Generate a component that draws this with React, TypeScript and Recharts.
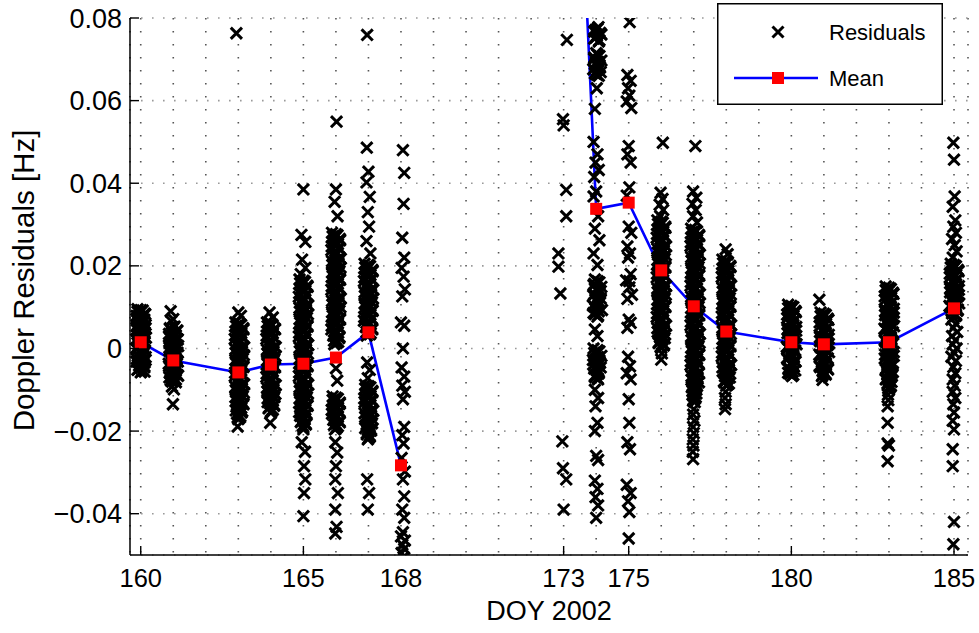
import React from 'react';
import { ComposedChart, Scatter, Line, XAxis, YAxis, CartesianGrid, Legend } from 'recharts';

const FONT = '"Liberation Sans", Arial, Helvetica, sans-serif';

// axis ticks
const dayTicks = [160, 161, 162, 163, 164, 165, 166, 167, 168, 169, 170, 171, 172, 173, 174, 175, 176, 177, 178, 179, 180, 181, 182, 183, 184, 185];
const dayLabels = [160, 165, 168, 173, 175, 180, 185];
const yTicks = [-0.04, -0.02, 0, 0.02, 0.04, 0.06, 0.08];
const yTickLabels = ['\u22120.04', '\u22120.02', '0', '0.02', '0.04', '0.06', '0.08'];

// daily mean (173 runs off the top of the plot, 169-172 no data)
const meanDays = [160, 161, 163, 164, 165, 166, 167, 168, 170, 173, 174, 175, 176, 177, 178, 180, 181, 183, 185];
const meanValues = [0.0015, -0.0029, -0.0058, -0.0039, -0.0037, -0.0022, 0.0039, -0.0283, null, 0.203, 0.0338, 0.0353, 0.0189, 0.0102, 0.0041, 0.0015, 0.001, 0.0015, 0.0097];

// residuals per pass, [DOY, Hz]
const day160 = [
  [159.9, 0.0095], [160.06, 0.0092], [159.98, 0.0087], [160.14, 0.0083], [159.87, 0.0079], [160.03, 0.0075], [160.11, 0.007], [159.93, 0.0066],
  [160.0, 0.0061], [160.15, 0.0057], [159.88, 0.0053], [160.07, 0.0048], [159.96, 0.0044], [160.12, 0.0039], [159.9, 0.0035], [160.04, 0.003],
  [160.16, 0.0026], [159.86, 0.0022], [160.0, 0.0017], [160.1, 0.0013], [159.94, 0.0008], [160.06, 0.0004], [159.88, -0.0001], [160.13, -0.0005],
  [159.98, -0.001], [160.08, -0.0014], [159.91, -0.0019], [160.02, -0.0023], [160.15, -0.0028], [159.87, -0.0032], [160.05, -0.0037], [159.95, -0.0041],
  [160.11, -0.0046], [159.92, -0.005], [160.04, -0.0054], [160.0, -0.0058],
  [160.0, 0.0093], [159.9, 0.0089], [160.12, 0.0084], [159.95, 0.008], [160.06, 0.0076], [159.87, 0.0071], [160.1, 0.0067], [159.98, 0.0062],
  [160.04, 0.0058], [159.92, 0.0054], [160.15, 0.0049], [159.88, 0.0045], [160.08, 0.004], [159.96, 0.0036], [160.02, 0.0031], [160.11, 0.0027],
  [160.0, 0.0023], [159.9, 0.0018], [160.12, 0.0014], [159.95, 0.001], [160.06, 0.0005], [159.87, 0.0001], [160.1, -0.0003], [159.98, -0.0008],
  [160.04, -0.0012], [159.92, -0.0017], [160.15, -0.0021], [159.88, -0.0025], [160.08, -0.003], [159.96, -0.0034], [160.02, -0.0039], [160.11, -0.0043],
  [160.0, -0.0047], [159.9, -0.0052], [160.12, -0.0056],
];
const day161 = [
  [160.92, 0.009], [161.0, 0.0071], [160.94, 0.0066],
  [161.04, 0.0053], [160.9, 0.0049], [161.12, 0.0044], [160.98, 0.004], [160.87, 0.0035], [161.08, 0.0031], [160.95, 0.0026], [161.14, 0.0022],
  [161.02, 0.0017], [160.89, 0.0013], [161.1, 0.0008], [160.96, 0.0004], [161.05, -0.0001], [160.88, -0.0005], [161.13, -0.001], [160.99, -0.0014],
  [161.07, -0.0019], [160.91, -0.0023], [161.03, -0.0028], [161.14, -0.0032], [160.86, -0.0037], [161.0, -0.0041], [161.1, -0.0046], [160.94, -0.005],
  [161.06, -0.0055], [160.89, -0.0059], [161.12, -0.0064], [160.97, -0.0068], [161.04, -0.0073], [160.92, -0.0077], [161.08, -0.0082],
  [160.96, -0.0092], [161.02, -0.0099], [160.99, -0.0135],
  [161.0, 0.0051], [160.9, 0.0047], [161.12, 0.0042], [160.95, 0.0038], [161.06, 0.0033], [160.87, 0.0029], [161.1, 0.0024], [160.98, 0.002],
  [161.04, 0.0015], [160.92, 0.0011], [161.15, 0.0006], [160.88, 0.0002], [161.08, -0.0003], [160.96, -0.0007], [161.02, -0.0012], [161.11, -0.0016],
  [161.0, -0.0021], [160.9, -0.0025], [161.12, -0.003], [160.95, -0.0034], [161.06, -0.0039], [160.87, -0.0043], [161.1, -0.0048], [160.98, -0.0052],
  [161.04, -0.0057], [160.92, -0.0061], [161.15, -0.0066], [160.88, -0.007], [161.08, -0.0075], [160.96, -0.008],
];
const day163 = [
  [162.94, 0.0763], [163.0, 0.0087], [163.08, 0.0079],
  [162.91, 0.0063], [163.08, 0.0057], [163.0, 0.0052], [163.16, 0.0046], [162.94, 0.004], [163.04, 0.0035], [163.12, 0.0029], [162.89, 0.0023],
  [163.06, 0.0018], [162.97, 0.0012], [163.14, 0.0006], [163.02, 0.0001], [163.1, -0.0005], [162.92, -0.0011], [163.17, -0.0016], [162.99, -0.0022],
  [162.91, -0.0028], [163.08, -0.0033], [163.0, -0.0039], [163.16, -0.0045], [162.94, -0.005], [163.04, -0.0056], [163.12, -0.0062], [162.89, -0.0067],
  [163.06, -0.0073], [162.97, -0.0079], [163.14, -0.0084], [163.02, -0.009], [163.1, -0.0096], [162.92, -0.0101], [163.17, -0.0107], [162.99, -0.0113],
  [162.91, -0.0118], [163.08, -0.0124], [163.0, -0.013], [163.16, -0.0135], [162.94, -0.0141], [163.04, -0.0147], [163.12, -0.0152], [162.96, -0.0158],
  [163.06, -0.0164], [163.0, -0.0171], [162.98, -0.0189],
  [163.03, 0.006], [162.93, 0.0054], [163.15, 0.0049], [162.98, 0.0043], [163.09, 0.0037], [162.9, 0.0032], [163.13, 0.0026], [163.01, 0.002],
  [163.07, 0.0015], [162.95, 0.0009], [163.18, 0.0003], [162.91, -0.0002], [163.11, -0.0008], [162.99, -0.0014], [163.05, -0.0019], [163.14, -0.0025],
  [163.03, -0.0031], [162.93, -0.0036], [163.15, -0.0042], [162.98, -0.0048], [163.09, -0.0053], [162.9, -0.0059], [163.13, -0.0065], [163.01, -0.007],
  [163.07, -0.0076], [162.95, -0.0082], [163.18, -0.0087], [162.91, -0.0093], [163.11, -0.0099], [162.99, -0.0104], [163.05, -0.011], [163.14, -0.0116],
  [163.03, -0.0121], [162.93, -0.0127], [163.15, -0.0133], [162.98, -0.0138], [163.09, -0.0144], [162.92, -0.015], [163.1, -0.0155], [163.01, -0.0161],
  [163.05, -0.0167],
];
const day164 = [
  [163.96, 0.0087], [164.06, 0.0075],
  [163.88, 0.0063], [164.05, 0.0057], [163.97, 0.0051], [164.13, 0.0046], [163.91, 0.004], [164.01, 0.0034], [164.09, 0.0028], [163.86, 0.0023],
  [164.03, 0.0017], [163.94, 0.0011], [164.11, 0.0005], [163.99, 0.0], [164.07, -0.0006], [163.89, -0.0012], [164.14, -0.0018], [163.96, -0.0023],
  [163.88, -0.0029], [164.05, -0.0035], [163.97, -0.0041], [164.13, -0.0046], [163.91, -0.0052], [164.01, -0.0058], [164.09, -0.0064], [163.86, -0.0069],
  [164.03, -0.0075], [163.94, -0.0081], [164.11, -0.0087], [163.99, -0.0092], [164.07, -0.0098], [163.89, -0.0104], [164.14, -0.011], [163.96, -0.0115],
  [163.9, -0.0121], [164.06, -0.0127], [163.98, -0.0133], [164.1, -0.0139], [163.93, -0.0145], [164.03, -0.0151], [164.0, -0.0156], [163.98, -0.018],
  [164.0, 0.006], [163.9, 0.0054], [164.12, 0.0048], [163.95, 0.0043], [164.06, 0.0037], [163.87, 0.0031], [164.1, 0.0026], [163.98, 0.002],
  [164.04, 0.0014], [163.92, 0.0008], [164.15, 0.0003], [163.88, -0.0003], [164.08, -0.0009], [163.96, -0.0015], [164.02, -0.002], [164.11, -0.0026],
  [164.0, -0.0032], [163.9, -0.0038], [164.12, -0.0043], [163.95, -0.0049], [164.06, -0.0055], [163.87, -0.0061], [164.1, -0.0066], [163.98, -0.0072],
  [164.04, -0.0078], [163.92, -0.0084], [164.15, -0.0089], [163.88, -0.0095], [164.08, -0.0101], [163.96, -0.0107], [164.02, -0.0112], [164.11, -0.0118],
  [164.0, -0.0124], [163.9, -0.013], [164.1, -0.0136], [163.95, -0.0142], [164.06, -0.0148], [164.0, -0.0153],
];
const day165 = [
  [165.0, 0.0385], [164.94, 0.0275], [165.06, 0.0258], [164.96, 0.0215], [165.06, 0.0195], [164.92, 0.018],
  [164.88, 0.0167], [165.05, 0.0161], [164.97, 0.0155], [165.13, 0.0149], [164.91, 0.0143], [165.01, 0.0137], [165.09, 0.0131], [164.86, 0.0125],
  [165.03, 0.0119], [164.94, 0.0113], [165.11, 0.0107], [164.99, 0.0101], [165.07, 0.0095], [164.89, 0.0089], [165.14, 0.0083], [164.96, 0.0077],
  [164.88, 0.0071], [165.05, 0.0065], [164.97, 0.0059], [165.13, 0.0053], [164.91, 0.0047], [165.01, 0.0041], [165.09, 0.0035], [164.86, 0.0029],
  [165.03, 0.0023], [164.94, 0.0017], [165.11, 0.0011], [164.99, 0.0005], [165.07, -0.0001], [164.89, -0.0007], [165.14, -0.0013], [164.96, -0.0019],
  [164.88, -0.0025], [165.05, -0.0031], [164.97, -0.0037], [165.13, -0.0043], [164.91, -0.0049], [165.01, -0.0055], [165.09, -0.0061], [164.86, -0.0067],
  [165.03, -0.0073], [164.94, -0.0079], [165.11, -0.0085], [164.99, -0.0091], [165.07, -0.0097], [164.89, -0.0103], [165.14, -0.0109], [164.96, -0.0115],
  [164.88, -0.0121], [165.05, -0.0127], [164.97, -0.0133], [165.13, -0.0139], [164.91, -0.0145], [165.01, -0.0151], [165.09, -0.0157], [164.9, -0.0163],
  [165.03, -0.0169], [164.95, -0.0175], [165.06, -0.0181], [164.98, -0.0187], [165.0, -0.0196],
  [164.95, -0.0227], [165.05, -0.025], [165.02, -0.0285], [165.06, -0.0317], [165.02, -0.035], [165.0, -0.0406],
  [165.0, 0.0164], [164.9, 0.0158], [165.12, 0.0152], [164.95, 0.0146], [165.06, 0.014], [164.87, 0.0134], [165.1, 0.0128], [164.98, 0.0122],
  [165.04, 0.0116], [164.92, 0.011], [165.15, 0.0104], [164.88, 0.0098], [165.08, 0.0092], [164.96, 0.0086], [165.02, 0.008], [165.11, 0.0074],
  [165.0, 0.0068], [164.9, 0.0062], [165.12, 0.0056], [164.95, 0.005], [165.06, 0.0044], [164.87, 0.0038], [165.1, 0.0032], [164.98, 0.0026],
  [165.04, 0.002], [164.92, 0.0014], [165.15, 0.0008], [164.88, 0.0002], [165.08, -0.0004], [164.96, -0.001], [165.02, -0.0016], [165.11, -0.0022],
  [165.0, -0.0028], [164.9, -0.0034], [165.12, -0.004], [164.95, -0.0046], [165.06, -0.0052], [164.87, -0.0058], [165.1, -0.0064], [164.98, -0.007],
  [165.04, -0.0076], [164.92, -0.0082], [165.15, -0.0088], [164.88, -0.0094], [165.08, -0.01], [164.96, -0.0106], [165.02, -0.0112], [165.11, -0.0118],
  [165.0, -0.0124], [164.9, -0.013], [165.12, -0.0136], [164.95, -0.0142], [165.06, -0.0148], [164.87, -0.0154], [165.1, -0.016], [164.98, -0.0166],
  [165.04, -0.0172], [164.92, -0.0178], [165.08, -0.0184], [165.0, -0.0191],
];
const day166 = [
  [166.02, 0.0549], [166.0, 0.0385], [165.96, 0.0355], [166.05, 0.032],
  [165.88, 0.028], [166.05, 0.0274], [165.97, 0.0268], [166.13, 0.0262], [165.91, 0.0256], [166.01, 0.025], [166.09, 0.0244], [165.86, 0.0238],
  [166.03, 0.0232], [165.94, 0.0226], [166.11, 0.022], [165.99, 0.0214], [166.07, 0.0208], [165.89, 0.0202], [166.14, 0.0196], [165.96, 0.019],
  [165.88, 0.0184], [166.05, 0.0178], [165.97, 0.0172], [166.13, 0.0166], [165.91, 0.016], [166.01, 0.0154], [166.09, 0.0148], [165.86, 0.0142],
  [166.03, 0.0136], [165.94, 0.013], [166.11, 0.0124], [165.99, 0.0118], [166.07, 0.0112], [165.89, 0.0106], [166.14, 0.01], [165.96, 0.0094],
  [165.88, 0.0088], [166.05, 0.0082], [165.97, 0.0076], [166.13, 0.007], [165.91, 0.0064], [166.01, 0.0058], [166.09, 0.0052], [165.86, 0.0046],
  [166.03, 0.004], [165.94, 0.0034], [166.11, 0.0028], [165.99, 0.0022], [166.07, 0.0016], [165.95, 0.001],
  [166.0, -0.0048], [166.04, -0.0078],
  [165.9, -0.0116], [166.06, -0.0122], [165.98, -0.0128], [166.12, -0.0134], [165.92, -0.014], [166.02, -0.0146], [166.1, -0.0152], [165.88, -0.0158],
  [166.04, -0.0164], [165.95, -0.017], [166.11, -0.0176], [165.99, -0.0182], [166.06, -0.0188], [165.97, -0.0196],
  [165.98, -0.0227], [166.04, -0.0252], [166.0, -0.0285], [165.98, -0.0317], [166.06, -0.035], [165.98, -0.039], [166.02, -0.0432], [165.98, -0.0448],
  [166.0, 0.0277], [165.9, 0.0271], [166.12, 0.0265], [165.95, 0.0259], [166.06, 0.0253], [165.87, 0.0247], [166.1, 0.0241], [165.98, 0.0235],
  [166.04, 0.0229], [165.92, 0.0223], [166.15, 0.0217], [165.88, 0.0211], [166.08, 0.0205], [165.96, 0.0199], [166.02, 0.0193], [166.11, 0.0187],
  [166.0, 0.0181], [165.9, 0.0175], [166.12, 0.0169], [165.95, 0.0163], [166.06, 0.0157], [165.87, 0.0151], [166.1, 0.0145], [165.98, 0.0139],
  [166.04, 0.0133], [165.92, 0.0127], [166.15, 0.0121], [165.88, 0.0115], [166.08, 0.0109], [165.96, 0.0103], [166.02, 0.0097], [166.11, 0.0091],
  [166.0, 0.0085], [165.9, 0.0079], [166.12, 0.0073], [165.95, 0.0067], [166.06, 0.0061], [165.87, 0.0055], [166.1, 0.0049], [165.98, 0.0043],
  [166.04, 0.0037], [165.92, 0.0031], [166.1, 0.0025], [165.94, 0.0019], [166.02, 0.0013],
  [166.0, -0.0119], [165.9, -0.0125], [166.12, -0.0131], [165.95, -0.0137], [166.06, -0.0143], [165.87, -0.0149], [166.1, -0.0155], [165.98, -0.0161],
  [166.04, -0.0167], [165.92, -0.0173], [166.12, -0.0179], [165.94, -0.0185], [166.02, -0.0192],
];
const day167 = [
  [166.96, 0.0759], [166.95, 0.0486], [167.0, 0.0428], [166.94, 0.0402], [167.04, 0.0367], [166.98, 0.033], [167.02, 0.0295], [166.94, 0.026], [167.06, 0.023],
  [166.88, 0.0205], [167.05, 0.0199], [166.97, 0.0193], [167.13, 0.0187], [166.91, 0.0181], [167.01, 0.0175], [167.09, 0.0169], [166.86, 0.0163],
  [167.03, 0.0157], [166.94, 0.0151], [167.11, 0.0145], [166.99, 0.0139], [167.07, 0.0133], [166.89, 0.0127], [167.14, 0.0121], [166.96, 0.0115],
  [166.88, 0.0109], [167.05, 0.0103], [166.97, 0.0097], [167.13, 0.0091], [166.91, 0.0085], [167.01, 0.0079], [167.09, 0.0073], [166.86, 0.0067],
  [167.03, 0.0061], [166.94, 0.0055], [167.11, 0.0049], [166.99, 0.0043], [167.07, 0.0037], [166.95, 0.0031],
  [166.96, -0.0034], [167.04, -0.0052], [166.98, -0.0072],
  [166.9, -0.0088], [167.06, -0.0094], [166.98, -0.01], [167.12, -0.0106], [166.92, -0.0112], [167.02, -0.0118], [167.1, -0.0124], [166.88, -0.013],
  [167.04, -0.0136], [166.95, -0.0142], [167.11, -0.0148], [166.99, -0.0154], [167.06, -0.016], [166.9, -0.0166], [167.13, -0.0172], [166.97, -0.0178],
  [167.03, -0.0184], [166.93, -0.019], [167.08, -0.0196], [167.0, -0.0202], [166.95, -0.0208], [167.04, -0.0214], [166.98, -0.022],
  [166.96, -0.0317], [167.02, -0.035], [166.98, -0.039],
  [167.0, 0.0202], [166.9, 0.0196], [167.12, 0.019], [166.95, 0.0184], [167.06, 0.0178], [166.87, 0.0172], [167.1, 0.0166], [166.98, 0.016],
  [167.04, 0.0154], [166.92, 0.0148], [167.15, 0.0142], [166.88, 0.0136], [167.08, 0.013], [166.96, 0.0124], [167.02, 0.0118], [167.11, 0.0112],
  [167.0, 0.0106], [166.9, 0.01], [167.12, 0.0094], [166.95, 0.0088], [167.06, 0.0082], [166.87, 0.0076], [167.1, 0.007], [166.98, 0.0064],
  [167.04, 0.0058], [166.92, 0.0052], [167.12, 0.0046], [166.94, 0.004], [167.04, 0.0034],
  [167.0, -0.0091], [166.9, -0.0097], [167.12, -0.0103], [166.95, -0.0109], [167.06, -0.0115], [166.87, -0.0121], [167.1, -0.0127], [166.98, -0.0133],
  [167.04, -0.0139], [166.92, -0.0145], [167.15, -0.0151], [166.88, -0.0157], [167.08, -0.0163], [166.96, -0.0169], [167.02, -0.0175], [167.11, -0.0181],
  [167.0, -0.0187], [166.9, -0.0193], [167.08, -0.0199], [166.95, -0.0205], [167.04, -0.0211], [167.0, -0.0217],
];
const day168 = [
  [168.06, 0.048], [168.1, 0.0425], [168.08, 0.035], [168.04, 0.0268], [168.1, 0.022], [168.02, 0.0195], [168.08, 0.0174], [168.12, 0.0143],
  [168.04, 0.0126], [168.0, 0.0063], [168.1, 0.0055], [168.06, 0.0], [168.02, -0.0046], [168.1, -0.0068], [168.04, -0.009], [168.12, -0.0105],
  [168.06, -0.0123], [168.1, -0.019], [168.04, -0.021], [168.08, -0.023], [168.02, -0.0265], [168.12, -0.0298], [168.06, -0.0317], [168.1, -0.0358],
  [168.04, -0.039], [168.1, -0.041], [168.06, -0.0445], [168.0, -0.0455], [168.12, -0.0465], [168.04, -0.0475], [168.1, -0.0485], [168.02, -0.0495],
  [168.08, -0.0505],
];
const day173 = [
  [173.1, 0.0747], [172.98, 0.0555], [173.0, 0.054], [173.08, 0.0384], [173.08, 0.032], [172.84, 0.023], [172.84, 0.0198], [172.9, 0.0133],
  [172.96, -0.0225], [172.98, -0.029], [173.08, -0.0317], [173.0, -0.039],
];
const day174 = [
  [174.07, 0.0778], [173.98, 0.0771], [174.12, 0.0764], [174.02, 0.0757], [173.94, 0.075], [174.08, 0.0743],
  [174.0, 0.0715], [174.1, 0.0708], [173.94, 0.0701], [174.06, 0.0694], [173.98, 0.0687], [174.12, 0.068], [174.02, 0.0673], [173.96, 0.0666], [174.08, 0.066],
  [174.02, 0.063], [173.96, 0.058], [173.92, 0.05], [174.04, 0.047], [173.98, 0.045], [174.08, 0.0432], [173.94, 0.0415], [174.0, 0.038],
  [173.92, 0.0368], [174.06, 0.032], [173.96, 0.029], [174.1, 0.0262], [173.92, 0.023], [174.04, 0.0202],
  [173.96, 0.0167], [174.1, 0.016], [173.92, 0.0153], [174.04, 0.0146], [174.14, 0.0139], [173.94, 0.0132], [174.06, 0.0125], [173.98, 0.0118],
  [174.12, 0.0111], [173.9, 0.0104], [174.02, 0.0097], [174.08, 0.009], [173.96, 0.0083], [174.04, 0.0077],
  [173.96, 0.0046], [174.04, 0.003],
  [173.92, 0.0], [174.1, -0.0007], [173.98, -0.0014], [174.06, -0.0021], [173.9, -0.0028], [174.12, -0.0035], [174.0, -0.0042], [173.94, -0.0049],
  [174.08, -0.0056], [174.02, -0.0063], [173.96, -0.0069], [174.06, -0.0075],
  [173.96, -0.01], [174.06, -0.012], [173.98, -0.014], [174.04, -0.018], [173.96, -0.02], [174.0, -0.026], [174.06, -0.027], [173.96, -0.032],
  [174.04, -0.034], [173.98, -0.036], [174.06, -0.038], [174.0, -0.041],
  [174.04, 0.0774], [173.94, 0.0767], [174.16, 0.076], [173.99, 0.0753], [174.1, 0.0746], [174.04, 0.0711], [173.94, 0.0704], [174.16, 0.0697],
  [173.99, 0.069], [174.1, 0.0683], [173.91, 0.0676], [174.14, 0.0669], [174.02, 0.0663],
  [174.04, 0.0163], [173.94, 0.0156], [174.16, 0.0149], [173.99, 0.0142], [174.1, 0.0135], [173.91, 0.0128], [174.14, 0.0121], [174.02, 0.0114],
  [174.08, 0.0107], [173.96, 0.01], [174.18, 0.0093], [173.92, 0.0086], [174.06, 0.008],
  [174.04, -0.0004], [173.94, -0.0011], [174.16, -0.0018], [173.99, -0.0025], [174.1, -0.0032], [173.91, -0.0039], [174.14, -0.0046], [174.02, -0.0053],
  [174.08, -0.006], [173.96, -0.0066], [174.04, -0.0072],
];
const day175 = [
  [175.03, 0.079], [174.96, 0.0662], [175.06, 0.0648], [174.98, 0.063], [175.02, 0.0612], [174.94, 0.0598], [175.08, 0.0582], [175.0, 0.049],
  [174.96, 0.047], [175.06, 0.045], [175.02, 0.039], [174.94, 0.037], [175.0, 0.0295], [175.08, 0.028], [174.96, 0.0247], [175.04, 0.023],
  [174.98, 0.022], [175.06, 0.018], [174.92, 0.0165], [175.02, 0.0148], [175.1, 0.013], [174.96, 0.012], [175.02, 0.0163], [175.0, 0.007],
  [175.06, 0.0062], [174.96, 0.005], [174.98, -0.002], [175.04, -0.0043], [174.94, -0.006], [175.06, -0.0075], [175.0, -0.0123], [175.02, -0.018],
  [174.96, -0.0227], [175.04, -0.0244], [174.94, -0.033], [175.06, -0.035], [174.98, -0.037], [175.02, -0.0396], [175.0, -0.046],
];
const day176 = [
  [176.05, 0.0498], [175.98, 0.0377], [176.04, 0.0362], [175.95, 0.0348], [176.06, 0.0335], [175.97, 0.032],
  [175.88, 0.031], [176.05, 0.0304], [175.97, 0.0298], [176.13, 0.0292], [175.91, 0.0286], [176.01, 0.028], [176.09, 0.0274], [175.86, 0.0268],
  [176.03, 0.0262], [175.94, 0.0256], [176.11, 0.025], [175.99, 0.0244], [176.07, 0.0238], [175.89, 0.0232], [176.14, 0.0226], [175.96, 0.022],
  [175.88, 0.0214], [176.05, 0.0208], [175.97, 0.0202], [176.13, 0.0196], [175.91, 0.019], [176.01, 0.0184], [176.09, 0.0178], [175.86, 0.0172],
  [176.03, 0.0166], [175.94, 0.016], [176.11, 0.0154], [175.99, 0.0148], [176.07, 0.0142], [175.89, 0.0136], [176.14, 0.013], [175.96, 0.0124],
  [175.88, 0.0118], [176.05, 0.0112], [175.97, 0.0106], [176.13, 0.01], [175.91, 0.0094], [176.01, 0.0088], [176.09, 0.0082], [175.86, 0.0076],
  [176.03, 0.007], [175.94, 0.0064], [176.11, 0.0058], [175.99, 0.0052], [176.07, 0.0046], [175.89, 0.004], [176.12, 0.0034], [175.96, 0.0028],
  [176.04, 0.0022], [175.93, 0.0016], [176.08, 0.001], [175.98, 0.0004], [176.02, -0.0012], [176.0, -0.0027],
  [176.0, 0.0307], [175.9, 0.0301], [176.12, 0.0295], [175.95, 0.0289], [176.06, 0.0283], [175.87, 0.0277], [176.1, 0.0271], [175.98, 0.0265],
  [176.04, 0.0259], [175.92, 0.0253], [176.15, 0.0247], [175.88, 0.0241], [176.08, 0.0235], [175.96, 0.0229], [176.02, 0.0223], [176.11, 0.0217],
  [176.0, 0.0211], [175.9, 0.0205], [176.12, 0.0199], [175.95, 0.0193], [176.06, 0.0187], [175.87, 0.0181], [176.1, 0.0175], [175.98, 0.0169],
  [176.04, 0.0163], [175.92, 0.0157], [176.15, 0.0151], [175.88, 0.0145], [176.08, 0.0139], [175.96, 0.0133], [176.02, 0.0127], [176.11, 0.0121],
  [176.0, 0.0115], [175.9, 0.0109], [176.12, 0.0103], [175.95, 0.0097], [176.06, 0.0091], [175.87, 0.0085], [176.1, 0.0079], [175.98, 0.0073],
  [176.04, 0.0067], [175.92, 0.0061], [176.15, 0.0055], [175.88, 0.0049], [176.08, 0.0043], [175.96, 0.0037], [176.02, 0.0031], [176.11, 0.0025],
  [176.0, 0.0019], [175.92, 0.0013], [176.08, 0.0007], [176.0, 0.0001],
];
const day177 = [
  [177.05, 0.049], [176.98, 0.038], [177.08, 0.0365], [176.96, 0.035], [177.06, 0.0335], [176.98, 0.032], [177.1, 0.0305],
  [176.92, 0.029], [177.09, 0.0284], [177.01, 0.0278], [177.17, 0.0272], [176.95, 0.0266], [177.05, 0.026], [177.13, 0.0254], [176.9, 0.0248],
  [177.07, 0.0242], [176.98, 0.0236], [177.15, 0.023], [177.03, 0.0224], [177.11, 0.0218], [176.93, 0.0212], [177.18, 0.0206], [177.0, 0.02],
  [176.92, 0.0194], [177.09, 0.0188], [177.01, 0.0182], [177.17, 0.0176], [176.95, 0.017], [177.05, 0.0164], [177.13, 0.0158], [176.9, 0.0152],
  [177.07, 0.0146], [176.98, 0.014], [177.15, 0.0134], [177.03, 0.0128], [177.11, 0.0122], [176.93, 0.0116], [177.18, 0.011], [177.0, 0.0104],
  [176.92, 0.0098], [177.09, 0.0092], [177.01, 0.0086], [177.17, 0.008], [176.95, 0.0074], [177.05, 0.0068], [177.13, 0.0062], [176.9, 0.0056],
  [177.07, 0.005], [176.98, 0.0044], [177.15, 0.0038], [177.03, 0.0032], [177.11, 0.0026], [176.93, 0.002], [177.18, 0.0014], [177.0, 0.0008],
  [176.92, 0.0002], [177.09, -0.0004], [177.01, -0.001], [177.17, -0.0016], [176.95, -0.0022], [177.05, -0.0028], [177.13, -0.0034], [176.9, -0.004],
  [177.07, -0.0046], [176.98, -0.0052], [177.15, -0.0058], [177.03, -0.0064], [177.11, -0.007], [176.93, -0.0076], [177.16, -0.0082], [177.0, -0.0088],
  [176.94, -0.0094], [177.08, -0.01], [177.02, -0.0106], [176.96, -0.0112], [177.06, -0.0118], [176.99, -0.0124], [177.03, -0.013],
  [177.0, -0.0147], [176.98, -0.016], [177.02, -0.0175], [176.98, -0.019], [177.0, -0.0205], [176.97, -0.022], [176.99, -0.0235], [176.97, -0.025],
  [176.98, -0.0268],
  [177.04, 0.0287], [176.94, 0.0281], [177.16, 0.0275], [176.99, 0.0269], [177.1, 0.0263], [176.91, 0.0257], [177.14, 0.0251], [177.02, 0.0245],
  [177.08, 0.0239], [176.96, 0.0233], [177.19, 0.0227], [176.92, 0.0221], [177.12, 0.0215], [177.0, 0.0209], [177.06, 0.0203], [177.15, 0.0197],
  [177.04, 0.0191], [176.94, 0.0185], [177.16, 0.0179], [176.99, 0.0173], [177.1, 0.0167], [176.91, 0.0161], [177.14, 0.0155], [177.02, 0.0149],
  [177.08, 0.0143], [176.96, 0.0137], [177.19, 0.0131], [176.92, 0.0125], [177.12, 0.0119], [177.0, 0.0113], [177.06, 0.0107], [177.15, 0.0101],
  [177.04, 0.0095], [176.94, 0.0089], [177.16, 0.0083], [176.99, 0.0077], [177.1, 0.0071], [176.91, 0.0065], [177.14, 0.0059], [177.02, 0.0053],
  [177.08, 0.0047], [176.96, 0.0041], [177.19, 0.0035], [176.92, 0.0029], [177.12, 0.0023], [177.0, 0.0017], [177.06, 0.0011], [177.15, 0.0005],
  [177.04, -0.0001], [176.94, -0.0007], [177.16, -0.0013], [176.99, -0.0019], [177.1, -0.0025], [176.91, -0.0031], [177.14, -0.0037], [177.02, -0.0043],
  [177.08, -0.0049], [176.96, -0.0055], [177.16, -0.0061], [176.93, -0.0067], [177.12, -0.0073], [177.0, -0.0079], [177.06, -0.0085], [177.1, -0.0091],
  [177.04, -0.0097], [176.96, -0.0103], [177.08, -0.0109], [177.0, -0.0115], [177.04, -0.0121], [176.98, -0.0127],
];
const day178 = [
  [177.98, 0.024], [178.04, 0.0228],
  [177.88, 0.0215], [178.05, 0.0209], [177.97, 0.0203], [178.13, 0.0197], [177.91, 0.0191], [178.01, 0.0185], [178.09, 0.0179], [177.86, 0.0173],
  [178.03, 0.0167], [177.94, 0.0161], [178.11, 0.0155], [177.99, 0.0149], [178.07, 0.0143], [177.89, 0.0137], [178.14, 0.0131], [177.96, 0.0125],
  [177.88, 0.0119], [178.05, 0.0113], [177.97, 0.0107], [178.13, 0.0101], [177.91, 0.0095], [178.01, 0.0089], [178.09, 0.0083], [177.86, 0.0077],
  [178.03, 0.0071], [177.94, 0.0065], [178.11, 0.0059], [177.99, 0.0053], [178.07, 0.0047], [177.89, 0.0041], [178.14, 0.0035], [177.96, 0.0029],
  [177.88, 0.0023], [178.05, 0.0017], [177.97, 0.0011], [178.13, 0.0005], [177.91, -0.0001], [178.01, -0.0007], [178.09, -0.0013], [177.86, -0.0019],
  [178.03, -0.0025], [177.94, -0.0031], [178.11, -0.0037], [177.99, -0.0043], [178.07, -0.0049], [177.89, -0.0055], [178.12, -0.0061], [177.96, -0.0067],
  [178.04, -0.0073], [177.93, -0.0079], [178.08, -0.0085], [178.0, -0.009],
  [177.98, -0.0105], [177.96, -0.012], [177.98, -0.0135], [177.96, -0.0147],
  [178.0, 0.0212], [177.9, 0.0206], [178.12, 0.02], [177.95, 0.0194], [178.06, 0.0188], [177.87, 0.0182], [178.1, 0.0176], [177.98, 0.017],
  [178.04, 0.0164], [177.92, 0.0158], [178.15, 0.0152], [177.88, 0.0146], [178.08, 0.014], [177.96, 0.0134], [178.02, 0.0128], [178.11, 0.0122],
  [178.0, 0.0116], [177.9, 0.011], [178.12, 0.0104], [177.95, 0.0098], [178.06, 0.0092], [177.87, 0.0086], [178.1, 0.008], [177.98, 0.0074],
  [178.04, 0.0068], [177.92, 0.0062], [178.15, 0.0056], [177.88, 0.005], [178.08, 0.0044], [177.96, 0.0038], [178.02, 0.0032], [178.11, 0.0026],
  [178.0, 0.002], [177.9, 0.0014], [178.12, 0.0008], [177.95, 0.0002], [178.06, -0.0004], [177.87, -0.001], [178.1, -0.0016], [177.98, -0.0022],
  [178.04, -0.0028], [177.92, -0.0034], [178.15, -0.004], [177.88, -0.0046], [178.08, -0.0052], [177.96, -0.0058], [178.02, -0.0064], [178.11, -0.007],
  [178.0, -0.0076], [177.94, -0.0082], [178.04, -0.0087],
];
const day180 = [
  [179.9, 0.0106], [180.06, 0.01], [179.98, 0.0094], [180.14, 0.0088], [179.87, 0.0082], [180.03, 0.0076], [180.11, 0.007], [179.93, 0.0064],
  [180.0, 0.0058], [180.15, 0.0052], [179.88, 0.0046], [180.07, 0.004], [179.96, 0.0034], [180.12, 0.0028], [179.9, 0.0022], [180.04, 0.0016],
  [180.16, 0.001], [179.86, 0.0004], [180.0, -0.0002], [180.1, -0.0008], [179.94, -0.0014], [180.06, -0.002], [179.88, -0.0026], [180.13, -0.0032],
  [179.98, -0.0038], [180.08, -0.0044], [179.91, -0.005], [180.04, -0.0056], [179.96, -0.0062], [180.02, -0.0067],
  [180.0, 0.0103], [179.9, 0.0097], [180.12, 0.0091], [179.95, 0.0085], [180.06, 0.0079], [179.87, 0.0073], [180.1, 0.0067], [179.98, 0.0061],
  [180.04, 0.0055], [179.92, 0.0049], [180.15, 0.0043], [179.88, 0.0037], [180.08, 0.0031], [179.96, 0.0025], [180.02, 0.0019], [180.11, 0.0013],
  [180.0, 0.0007], [179.9, 0.0001], [180.12, -0.0005], [179.95, -0.0011], [180.06, -0.0017], [179.87, -0.0023], [180.1, -0.0029], [179.98, -0.0035],
  [180.04, -0.0041], [179.92, -0.0047], [180.12, -0.0053], [179.9, -0.0059], [180.06, -0.0064],
];
const day181 = [
  [180.86, 0.0118],
  [180.9, 0.0087], [181.06, 0.0081], [180.98, 0.0075], [181.14, 0.0069], [180.87, 0.0063], [181.03, 0.0057], [181.11, 0.0051], [180.93, 0.0045],
  [181.0, 0.0039], [181.15, 0.0033], [180.88, 0.0027], [181.07, 0.0021], [180.96, 0.0015], [181.12, 0.0009], [180.9, 0.0003], [181.04, -0.0003],
  [181.16, -0.0009], [180.86, -0.0015], [181.0, -0.0021], [181.1, -0.0027], [180.94, -0.0033], [181.06, -0.0039], [180.88, -0.0045], [181.13, -0.0051],
  [180.98, -0.0057], [181.06, -0.0063], [180.94, -0.0067], [180.96, -0.0076],
  [181.0, 0.0084], [180.9, 0.0078], [181.12, 0.0072], [180.95, 0.0066], [181.06, 0.006], [180.87, 0.0054], [181.1, 0.0048], [180.98, 0.0042],
  [181.04, 0.0036], [180.92, 0.003], [181.15, 0.0024], [180.88, 0.0018], [181.08, 0.0012], [180.96, 0.0006], [181.02, 0.0], [181.11, -0.0006],
  [181.0, -0.0012], [180.9, -0.0018], [181.12, -0.0024], [180.95, -0.003], [181.06, -0.0036], [180.87, -0.0042], [181.1, -0.0048], [180.98, -0.0054],
  [181.04, -0.006], [180.96, -0.0064],
];
const day183 = [
  [182.9, 0.015], [183.06, 0.0144], [182.98, 0.0138], [183.14, 0.0132], [182.87, 0.0126], [183.03, 0.012], [183.11, 0.0114], [182.93, 0.0108],
  [183.0, 0.0102], [183.15, 0.0096], [182.88, 0.009], [183.07, 0.0084], [182.96, 0.0078], [183.12, 0.0072], [182.9, 0.0066], [183.04, 0.006],
  [183.16, 0.0054], [182.86, 0.0048], [183.0, 0.0042], [183.1, 0.0036], [182.94, 0.003], [183.06, 0.0024], [182.88, 0.0018], [183.13, 0.0012],
  [182.98, 0.0006], [183.08, 0.0], [182.91, -0.0006], [183.02, -0.0012], [183.15, -0.0018], [182.87, -0.0024], [183.05, -0.003], [182.95, -0.0036],
  [183.11, -0.0042], [182.92, -0.0048], [183.04, -0.0054], [182.97, -0.006], [183.09, -0.0066], [182.93, -0.0072], [183.03, -0.0078], [182.96, -0.0084],
  [183.06, -0.009], [182.98, -0.0096], [183.0, -0.01],
  [182.97, -0.0112], [182.98, -0.0125], [182.96, -0.014], [182.96, -0.018], [182.96, -0.023], [183.0, -0.0235], [182.96, -0.0273],
  [183.0, 0.0147], [182.9, 0.0141], [183.12, 0.0135], [182.95, 0.0129], [183.06, 0.0123], [182.87, 0.0117], [183.1, 0.0111], [182.98, 0.0105],
  [183.04, 0.0099], [182.92, 0.0093], [183.15, 0.0087], [182.88, 0.0081], [183.08, 0.0075], [182.96, 0.0069], [183.02, 0.0063], [183.11, 0.0057],
  [183.0, 0.0051], [182.9, 0.0045], [183.12, 0.0039], [182.95, 0.0033], [183.06, 0.0027], [182.87, 0.0021], [183.1, 0.0015], [182.98, 0.0009],
  [183.04, 0.0003], [182.92, -0.0003], [183.15, -0.0009], [182.88, -0.0015], [183.08, -0.0021], [182.96, -0.0027], [183.02, -0.0033], [183.11, -0.0039],
  [183.0, -0.0045], [182.9, -0.0051], [183.12, -0.0057], [182.95, -0.0063], [183.06, -0.0069], [182.9, -0.0075], [183.08, -0.0081], [182.96, -0.0087],
  [183.04, -0.0093], [183.0, -0.0097],
];
const day185 = [
  [184.98, 0.0498], [185.0, 0.0457], [185.02, 0.0368], [184.96, 0.0343], [185.04, 0.031], [184.98, 0.0295], [185.06, 0.028], [184.94, 0.0265],
  [185.02, 0.025], [185.08, 0.0235], [184.96, 0.022],
  [184.9, 0.0205], [185.06, 0.0199], [184.98, 0.0193], [185.14, 0.0187], [184.87, 0.0181], [185.03, 0.0175], [185.11, 0.0169], [184.93, 0.0163],
  [185.0, 0.0157], [185.15, 0.0151], [184.88, 0.0145], [185.07, 0.0139], [184.96, 0.0133], [185.12, 0.0127], [184.9, 0.0121], [185.04, 0.0115],
  [185.16, 0.0109], [184.86, 0.0103], [185.0, 0.0097], [185.1, 0.0091], [184.94, 0.0085], [185.06, 0.0079],
  [184.92, 0.007], [185.06, 0.006], [184.98, 0.005], [185.1, 0.004], [184.94, 0.003], [185.04, 0.002], [184.96, 0.001], [185.08, 0.0],
  [185.0, -0.001], [184.92, -0.002], [185.06, -0.003], [184.98, -0.0045], [185.04, -0.006], [184.96, -0.0075],
  [185.02, -0.009], [184.96, -0.0105], [185.04, -0.012], [184.98, -0.0135], [185.0, -0.0155], [184.96, -0.0175], [185.0, -0.0196],
  [184.96, -0.0244], [184.96, -0.0285], [185.0, -0.042], [184.98, -0.0474],
  [185.0, 0.0202], [184.9, 0.0196], [185.12, 0.019], [184.95, 0.0184], [185.06, 0.0178], [184.87, 0.0172], [185.1, 0.0166], [184.98, 0.016],
  [185.04, 0.0154], [184.92, 0.0148], [185.15, 0.0142], [184.88, 0.0136], [185.08, 0.013], [184.96, 0.0124], [185.02, 0.0118], [185.11, 0.0112],
  [185.0, 0.0106], [184.9, 0.01], [185.12, 0.0094], [184.95, 0.0088], [185.06, 0.0082], [184.98, 0.0076],
];

const residualDays = [day160, day161, day163, day164, day165, day166, day167, day168, day173, day174, day175, day176, day177, day178, day180, day181, day183, day185];

const residuals = residualDays.flat().map(([x, y]) => ({ x, y }));
const meanData = meanDays.map((x, i) => ({ x, y: meanValues[i] }));

const XDOMAIN = [159.67, 185.43];
const YDOMAIN = [-0.05, 0.08];
const TICK_LEN = 9;

function crossShape(props: any) {
  const { cx, cy } = props;
  if (cx == null || cy == null) return <g />;
  const s = 5.6;
  return (
    <path
      d={`M${cx - s},${cy - s}L${cx + s},${cy + s}M${cx - s},${cy + s}L${cx + s},${cy - s}`}
      stroke="#000"
      strokeWidth={3}
      fill="none"
    />
  );
}

function meanDot(props: any) {
  const { cx, cy, index } = props;
  if (cx == null || cy == null) return <g key={`d${index}`} />;
  return <rect key={`d${index}`} x={cx - 6} y={cy - 6} width={12} height={12} fill="#ff0000" />;
}

function BottomTick(props: any) {
  const { x, y, payload } = props;
  if (!dayLabels.includes(payload.value)) return <g />;
  return (
    <g>
      <line x1={x} x2={x} y1={y} y2={y - TICK_LEN} stroke="#000" strokeWidth={1.4} />
      <text x={x} y={y + 32} textAnchor="middle" fontSize={25.5} fontFamily={FONT} fill="#000">
        {payload.value}
      </text>
    </g>
  );
}

function TopTick(props: any) {
  const { x, y } = props;
  return <line x1={x} x2={x} y1={y} y2={y + TICK_LEN} stroke="#000" strokeWidth={1.4} />;
}

function LeftTick(props: any) {
  const { x, y, payload } = props;
  const i = yTicks.indexOf(payload.value);
  return (
    <g>
      <line x1={x} x2={x + TICK_LEN} y1={y} y2={y} stroke="#000" strokeWidth={1.4} />
      <text x={x - 8} y={y + 9.5} textAnchor="end" fontSize={27} fontFamily={FONT} fill="#000">
        {yTickLabels[i]}
      </text>
    </g>
  );
}

function RightTick(props: any) {
  const { x, y } = props;
  return <line x1={x} x2={x - TICK_LEN} y1={y} y2={y} stroke="#000" strokeWidth={1.4} />;
}

function XLabel(props: any) {
  const { x, y, width } = props.viewBox;
  return (
    <text x={x + width / 2} y={y + 65} textAnchor="middle" fontSize={27} fontFamily={FONT} fill="#000">
      DOY 2002
    </text>
  );
}

function YLabel(props: any) {
  const { x, y, height } = props.viewBox;
  const cx = x + 23;
  const cy = y + height / 2 - 6;
  return (
    <text
      x={cx}
      y={cy}
      transform={`rotate(-90, ${cx}, ${cy})`}
      textAnchor="middle"
      dominantBaseline="central"
      fontSize={29.5}
      fontFamily={FONT}
      fill="#000"
    >
      Doppler Residuals [Hz]
    </text>
  );
}

function LegendBox() {
  return (
    <svg width={226} height={102} style={{ display: 'block' }}>
      <rect x={0.75} y={0.75} width={224.5} height={100.5} fill="#fff" stroke="#000" strokeWidth={1.5} />
      <path d="M55.5,23.5L66.5,34.5M55.5,34.5L66.5,23.5" stroke="#000" strokeWidth={3} fill="none" />
      <text x={112} y={37} fontSize={22} fontFamily={FONT} fill="#000">Residuals</text>
      <line x1={17} x2={101} y1={75} y2={75} stroke="#0000ff" strokeWidth={2.6} />
      <rect x={55} y={69} width={12} height={12} fill="#ff0000" />
      <text x={112} y={83} fontSize={22} fontFamily={FONT} fill="#000">Mean</text>
    </svg>
  );
}

export default function App() {
  const axisLine = { stroke: '#000', strokeWidth: 1.5 };
  return (
    <div style={{ position: 'absolute', left: 0, top: 0, width: 979, height: 633, background: '#fff' }}>
      <ComposedChart width={979} height={633} margin={{ top: 18, right: 11, bottom: 0, left: 0 }}>
        <CartesianGrid xAxisId="b" yAxisId="l" horizontal={false} stroke="#555" strokeWidth={1.6} strokeDasharray="1.6 11.4" />
        <CartesianGrid xAxisId="b" yAxisId="l" vertical={false} stroke="#9a9a9a" strokeWidth={1.6} strokeDasharray="1.6 9.4" />
        <XAxis
          xAxisId="b"
          dataKey="x"
          type="number"
          domain={XDOMAIN}
          ticks={dayTicks}
          interval={0}
          height={78}
          tickSize={0}
          tickMargin={0}
          tickLine={false}
          axisLine={axisLine}
          tick={<BottomTick />}
          label={{ content: XLabel }}
        />
        <XAxis
          xAxisId="t"
          orientation="top"
          type="number"
          domain={XDOMAIN}
          ticks={dayLabels}
          interval={0}
          height={0}
          tickSize={0}
          tickMargin={0}
          tickLine={false}
          axisLine={axisLine}
          tick={<TopTick />}
          allowDataOverflow
        />
        <YAxis
          yAxisId="l"
          dataKey="y"
          type="number"
          domain={YDOMAIN}
          ticks={yTicks}
          interval={0}
          width={130}
          tickSize={0}
          tickMargin={0}
          tickLine={false}
          axisLine={axisLine}
          tick={<LeftTick />}
          allowDataOverflow
          label={{ content: YLabel }}
        />
        <YAxis
          yAxisId="r"
          orientation="right"
          type="number"
          domain={YDOMAIN}
          ticks={yTicks}
          interval={0}
          width={0}
          tickSize={0}
          tickMargin={0}
          tickLine={false}
          axisLine={axisLine}
          tick={<RightTick />}
          allowDataOverflow
        />
        <Scatter
          xAxisId="b"
          yAxisId="l"
          name="Residuals"
          data={residuals}
          dataKey="y"
          shape={crossShape}
          isAnimationActive={false}
        />
        <Line
          xAxisId="b"
          yAxisId="l"
          name="Mean"
          data={meanData}
          dataKey="y"
          type="linear"
          stroke="#0000ff"
          strokeWidth={2.6}
          dot={meanDot}
          activeDot={false}
          connectNulls={false}
          isAnimationActive={false}
        />
        <Legend
          layout="horizontal"
          verticalAlign="middle"
          align="center"
          wrapperStyle={{ left: 717, top: 3, width: 226, height: 102 }}
          content={LegendBox}
        />
      </ComposedChart>
    </div>
  );
}
